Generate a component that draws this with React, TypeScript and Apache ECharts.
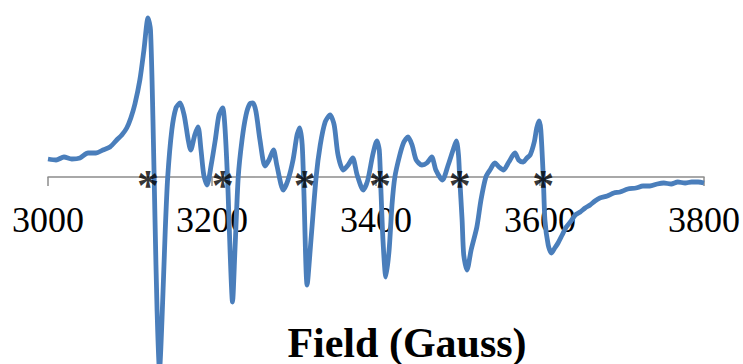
import React, { useEffect, useRef } from "react";
import * as echarts from "echarts";

// Magnetic field (Gauss) and signal (arbitrary units)
const field: number[] = [
  3000, 3009.8, 3019.5, 3029, 3039, 3048.8, 3058.5, 3067, 3075.6, 3083.8,
  3090, 3096, 3101, 3106, 3112, 3117, 3122, 3125, 3128, 3130.5,
  3133, 3136, 3139, 3143, 3146, 3151, 3156, 3161, 3166, 3171,
  3174, 3179, 3183, 3186.6, 3190, 3194, 3199, 3204, 3208.5, 3213,
  3216, 3219.5, 3222, 3225, 3228, 3232, 3236.6, 3241.5, 3246, 3250,
  3253.7, 3258.5, 3264.6, 3269.5, 3275, 3279, 3287, 3292.7, 3298.8, 3303.7,
  3307, 3310, 3312, 3316, 3320.7, 3327, 3332, 3338, 3344, 3349,
  3353.7, 3360, 3366, 3371.6, 3377, 3384.5, 3390, 3396, 3401, 3404,
  3406, 3408.5, 3412, 3416, 3419.5, 3423, 3429, 3434, 3439, 3444,
  3449, 3456, 3462, 3468, 3473, 3481, 3488, 3494, 3498, 3500.6,
  3502, 3505, 3507, 3511, 3516, 3523, 3528, 3534, 3539, 3545,
  3550, 3555.5, 3562, 3569.5, 3574, 3579.6, 3584, 3588, 3593, 3596,
  3599, 3601, 3604, 3606, 3610, 3614, 3618, 3622, 3627, 3632,
  3637, 3643, 3649, 3655, 3661, 3667, 3673, 3682, 3690, 3697.6,
  3707, 3717, 3725.6, 3734, 3743, 3751, 3760, 3768, 3777, 3785,
  3793, 3800,
];

const signal: number[] = [
  18, 17, 20, 18, 19, 24, 24, 27, 30, 37,
  42, 49, 59, 73, 97, 127, 159, 147, 57, -43,
  -133, -193, -143, -53, 0, 47, 69, 74, 62, 37,
  27, 42, 50, 27, 2, -8, 12, 37, 62, 69,
  47, -13, -73, -125, -73, 0, 37, 62, 73, 74,
  65, 37, 11, 17, 27, 12, -13, -3, 17, 42,
  49, 32, -13, -108, -63, 0, 32, 55, 62, 52,
  22, 7, 12, 19, 2, -13, -3, 22, 36, 27,
  -13, -63, -100, -73, -28, 0, 22, 35, 40, 32,
  17, 12, 14, 20, 7, -3, 12, 27, 36, 22,
  0, -43, -78, -93, -73, -50, -23, 0, 7, 14,
  10, 7, 15, 24, 17, 15, 19, 22, 35, 49,
  56, 47, 0, -43, -68, -76, -71, -66, -58, -50,
  -45, -38, -35, -31, -28, -24, -21, -19, -16, -15,
  -12, -11, -9, -9, -7, -6, -7, -5, -6, -5,
  -5, -6,
];

// Marked resonance positions (asterisks)
const markedFields: number[] = [3122, 3213, 3313, 3405, 3502, 3604];

const xTicks = { min: 3000, max: 3800, interval: 200 };
const xTitle = "Field (Gauss)";

export default function App() {
  const ref = useRef<HTMLDivElement>(null);

  useEffect(() => {
    if (!ref.current) return;
    const chart = echarts.init(ref.current, undefined, { renderer: "svg" });
    const serif = "Liberation Serif";
    chart.setOption({
      animation: false,
      grid: {
        left: 48,
        right: 39,
        top: 0,
        bottom: 187,
        containLabel: false,
        outerBoundsMode: "none",
      },
      xAxis: {
        type: "value",
        min: xTicks.min,
        max: xTicks.max,
        interval: xTicks.interval,
        axisLine: { onZero: false, lineStyle: { color: "#8c8c8c", width: 1.5 } },
        axisTick: { show: true, length: 9, lineStyle: { color: "#8c8c8c", width: 1.5 } },
        axisLabel: {
          color: "#000",
          fontFamily: serif,
          fontSize: 36,
          margin: 25,
          formatter: (v: number) => String(v),
        },
        splitLine: { show: false },
      },
      yAxis: {
        type: "value",
        min: 0,
        max: 177,
        show: false,
        splitLine: { show: false },
      },
      series: [
        {
          type: "line",
          data: field.map((f, i) => [f, signal[i]]),
          showSymbol: false,
          smooth: 0.25,
          clip: false,
          lineStyle: { color: "#4a7ebb", width: 4.8 },
          z: 2,
        },
        {
          type: "scatter",
          data: markedFields.map((f) => [f, 0]),
          symbolSize: 0,
          clip: false,
          itemStyle: { color: "rgba(0,0,0,0)" },
          label: {
            show: true,
            formatter: "*",
            position: "inside",
            color: "#000",
            fontFamily: serif,
            fontWeight: "bold",
            fontSize: 44,
            lineHeight: 18,
            offset: [0, 8],
          },
          z: 5,
        },
      ],
      graphic: [
        {
          type: "text",
          x: 407,
          y: 343,
          style: {
            text: xTitle,
            fontFamily: serif,
            fontWeight: "bold",
            fontSize: 42,
            lineHeight: 38,
            fill: "#000",
            textAlign: "center",
            textVerticalAlign: "middle",
          },
        },
      ],
    });
    return () => chart.dispose();
  }, []);

  return (
    <div
      ref={ref}
      style={{ position: "absolute", left: 0, top: 0, width: 743, height: 364, background: "#fff" }}
    />
  );
}
